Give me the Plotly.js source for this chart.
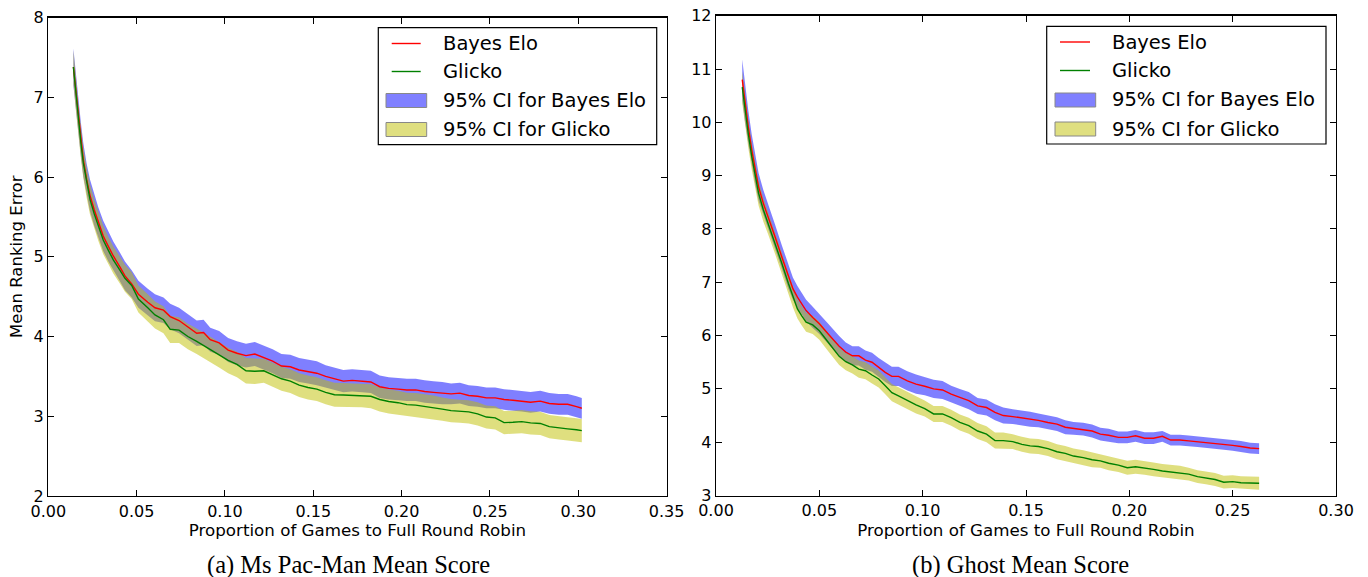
<!DOCTYPE html>
<html>
<head>
<meta charset="utf-8">
<script src="https://cdn.plot.ly/plotly-3.0.1.min.js"></script>
<style>
  html, body { margin: 0; padding: 0; background: #fff; }
  #chart { width: 1368px; height: 577px; }
</style>
</head>
<body>
<div id="chart"></div>
<script>
// ---------- (a) Ms Pac-Man Mean Score ----------
const pacX = [0.0142, 0.0155, 0.0170, 0.0185, 0.0198, 0.0217, 0.0236, 0.026, 0.0283, 0.0311,
  0.034, 0.0368, 0.0406, 0.0434, 0.0472, 0.051, 0.0563, 0.0604, 0.0652, 0.069,
  0.074, 0.079, 0.084, 0.0879, 0.0917, 0.0967, 0.1018, 0.1068, 0.1119, 0.1169,
  0.122, 0.127, 0.132, 0.137, 0.142, 0.147, 0.152, 0.157, 0.162, 0.167,
  0.172, 0.1775, 0.1826, 0.1876, 0.1927, 0.198, 0.203, 0.208, 0.213, 0.218,
  0.223, 0.228, 0.233, 0.238, 0.243, 0.248, 0.253, 0.258, 0.263, 0.268,
  0.273, 0.2785, 0.2836, 0.289, 0.294, 0.299, 0.302];
const pacBayes = [7.38, 7.09, 6.76, 6.46, 6.22, 5.97, 5.77, 5.59, 5.43, 5.26,
  5.13, 5.01, 4.87, 4.76, 4.66, 4.53, 4.43, 4.36, 4.33, 4.25,
  4.20, 4.12, 4.04, 4.05, 3.96, 3.92, 3.83, 3.79, 3.76, 3.78,
  3.73, 3.69, 3.63, 3.62, 3.58, 3.56, 3.54, 3.50, 3.47, 3.44,
  3.45, 3.44, 3.43, 3.37, 3.35, 3.34, 3.33, 3.33, 3.31, 3.30,
  3.29, 3.28, 3.29, 3.26, 3.25, 3.23, 3.23, 3.21, 3.20, 3.19,
  3.175, 3.19, 3.16, 3.15, 3.15, 3.12, 3.10];
const pacGlicko = [7.38, 7.06, 6.72, 6.42, 6.18, 5.93, 5.72, 5.54, 5.38, 5.21,
  5.08, 4.96, 4.83, 4.73, 4.64, 4.47, 4.36, 4.27, 4.21, 4.09,
  4.08, 4.00, 3.94, 3.89, 3.84, 3.77, 3.70, 3.65, 3.57, 3.565,
  3.57, 3.52, 3.47, 3.44, 3.39, 3.36, 3.34, 3.30, 3.27, 3.267,
  3.263, 3.263, 3.25, 3.21, 3.185, 3.17, 3.146, 3.14, 3.125, 3.11,
  3.09, 3.07, 3.063, 3.055, 3.03, 2.99, 2.98, 2.92, 2.925, 2.933,
  2.917, 2.91, 2.87, 2.852, 2.842, 2.83, 2.82];
const pacBayesCI = [0.23, 0.22, 0.22, 0.21, 0.21, 0.20, 0.20, 0.20, 0.19, 0.19,
  0.19, 0.18, 0.18, 0.18, 0.17, 0.17, 0.17, 0.17, 0.16, 0.16,
  0.16, 0.16, 0.16, 0.16, 0.15, 0.15, 0.15, 0.15, 0.15, 0.15,
  0.15, 0.15, 0.15, 0.15, 0.15, 0.15, 0.15, 0.14, 0.14, 0.14,
  0.14, 0.14, 0.14, 0.14, 0.14, 0.14, 0.14, 0.14, 0.14, 0.14,
  0.14, 0.13, 0.13, 0.13, 0.13, 0.13, 0.13, 0.13, 0.13, 0.13,
  0.13, 0.13, 0.13, 0.13, 0.13, 0.13, 0.13];
const pacGlickoCI = [0.21, 0.20, 0.20, 0.20, 0.19, 0.19, 0.19, 0.18, 0.18, 0.18,
  0.17, 0.17, 0.17, 0.17, 0.17, 0.17, 0.17, 0.17, 0.17, 0.17,
  0.16, 0.16, 0.16, 0.16, 0.16, 0.16, 0.16, 0.16, 0.16, 0.16,
  0.15, 0.15, 0.15, 0.15, 0.15, 0.15, 0.15, 0.15, 0.15, 0.15,
  0.15, 0.15, 0.15, 0.15, 0.15, 0.15, 0.15, 0.15, 0.15, 0.15,
  0.145, 0.145, 0.145, 0.145, 0.145, 0.145, 0.145, 0.145, 0.145, 0.145,
  0.145, 0.145, 0.145, 0.145, 0.145, 0.145, 0.145];

// ---------- (b) Ghost Mean Score ----------
const ghostX = [0.0127, 0.014, 0.0156, 0.0173, 0.019, 0.0206, 0.0229, 0.0253, 0.0286, 0.0318,
  0.035, 0.0372, 0.0394, 0.0415, 0.0436, 0.0468, 0.05, 0.0543, 0.0596, 0.0628,
  0.066, 0.0691, 0.0723, 0.0755, 0.0787, 0.0819, 0.0851, 0.0883, 0.0926, 0.0968,
  0.101, 0.1053, 0.1096, 0.1138, 0.118, 0.1223, 0.1266, 0.1309, 0.135, 0.139,
  0.1436, 0.148, 0.152, 0.156, 0.1606, 0.165, 0.169, 0.173, 0.1777, 0.182,
  0.186, 0.190, 0.1947, 0.199, 0.203, 0.2074, 0.2117, 0.216, 0.220, 0.2245,
  0.2287, 0.233, 0.237, 0.2415, 0.2457, 0.25, 0.254, 0.2585, 0.2628];
const ghostBayes = [10.80, 10.36, 9.92, 9.48, 9.10, 8.79, 8.48, 8.23, 7.85, 7.48,
  7.10, 6.88, 6.72, 6.60, 6.47, 6.34, 6.22, 6.03, 5.80, 5.69,
  5.62, 5.62, 5.54, 5.50, 5.40, 5.31, 5.235, 5.235, 5.15, 5.09,
  5.05, 5.00, 4.98, 4.90, 4.84, 4.78, 4.68, 4.65, 4.56, 4.50,
  4.48, 4.46, 4.43, 4.41, 4.37, 4.34, 4.28, 4.26, 4.245, 4.21,
  4.15, 4.13, 4.09, 4.09, 4.12, 4.075, 4.075, 4.11, 4.04, 4.04,
  4.025, 4.01, 3.99, 3.98, 3.96, 3.94, 3.92, 3.89, 3.88];
const ghostGlicko = [10.66, 10.23, 9.79, 9.36, 8.98, 8.67, 8.36, 8.10, 7.73, 7.36,
  6.98, 6.72, 6.50, 6.37, 6.25, 6.20, 6.09, 5.875, 5.61, 5.51,
  5.45, 5.37, 5.34, 5.26, 5.185, 5.06, 4.93, 4.87, 4.78, 4.70,
  4.63, 4.53, 4.53, 4.46, 4.37, 4.31, 4.21, 4.15, 4.03, 4.03,
  4.01, 3.96, 3.93, 3.92, 3.88, 3.82, 3.79, 3.74, 3.71, 3.67,
  3.65, 3.605, 3.57, 3.52, 3.54, 3.52, 3.49, 3.46, 3.44, 3.43,
  3.40, 3.355, 3.33, 3.30, 3.25, 3.26, 3.24, 3.24, 3.23];
const ghostBayesCI = [0.38, 0.34, 0.31, 0.29, 0.27, 0.26, 0.25, 0.24, 0.23, 0.22,
  0.22, 0.21, 0.21, 0.20, 0.20, 0.20, 0.19, 0.19, 0.19, 0.18,
  0.18, 0.18, 0.18, 0.18, 0.18, 0.18, 0.18, 0.18, 0.18, 0.18,
  0.17, 0.17, 0.17, 0.16, 0.16, 0.16, 0.15, 0.15, 0.15, 0.15,
  0.14, 0.14, 0.14, 0.13, 0.13, 0.13, 0.13, 0.12, 0.12, 0.12,
  0.12, 0.12, 0.11, 0.11, 0.11, 0.11, 0.11, 0.10, 0.10, 0.10,
  0.10, 0.10, 0.10, 0.10, 0.10, 0.10, 0.10, 0.10, 0.10];
const ghostGlickoCI = [0.30, 0.28, 0.26, 0.25, 0.24, 0.23, 0.22, 0.21, 0.20, 0.20,
  0.19, 0.19, 0.18, 0.18, 0.18, 0.17, 0.17, 0.17, 0.16, 0.16,
  0.16, 0.16, 0.16, 0.16, 0.16, 0.16, 0.16, 0.16, 0.16, 0.16,
  0.15, 0.15, 0.15, 0.15, 0.15, 0.15, 0.15, 0.15, 0.15, 0.15,
  0.14, 0.14, 0.14, 0.14, 0.14, 0.14, 0.14, 0.14, 0.14, 0.14,
  0.13, 0.13, 0.13, 0.13, 0.13, 0.13, 0.13, 0.13, 0.13, 0.13,
  0.12, 0.12, 0.12, 0.12, 0.12, 0.12, 0.12, 0.12, 0.12];

const xTicks = [0, 0.05, 0.10, 0.15, 0.20, 0.25, 0.30, 0.35];
const seriesNames = ['Bayes Elo', 'Glicko', '95% CI for Bayes Elo', '95% CI for Glicko'];
const xTitle = 'Proportion of Games to Full Round Robin';
const yTitle = 'Mean Ranking Error';
const captions = ['(a) Ms Pac-Man Mean Score', '(b) Ghost Mean Score'];

const W = 1368, H = 577;
const FONT = 'DejaVu Sans';
const RED = '#ff0000', GREEN = '#008000';
const BLUE = 'rgba(0,0,255,0.5)', YEL = 'rgba(191,191,0,0.5)';
const BLUE_PATCH = '#8080ff', YEL_PATCH = '#dfdf80';

function band(xs, ys, ci, name, color, xa, ya) {
  const up = ys.map((v, i) => v + ci[i]);
  const lo = ys.map((v, i) => v - ci[i]);
  return {
    x: xs.concat(xs.slice().reverse()),
    y: up.concat(lo.slice().reverse()),
    type: 'scatter', mode: 'lines', fill: 'toself',
    fillcolor: color, line: {width: 0}, name: name,
    xaxis: xa, yaxis: ya, showlegend: false, hoverinfo: 'skip'
  };
}
function line(xs, ys, name, color, xa, ya) {
  return {x: xs, y: ys, type: 'scatter', mode: 'lines', name: name,
    line: {color: color, width: 1.4}, xaxis: xa, yaxis: ya, showlegend: false};
}

const data = [
  band(pacX, pacBayes, pacBayesCI, seriesNames[2], BLUE, 'x', 'y'),
  band(pacX, pacGlicko, pacGlickoCI, seriesNames[3], YEL, 'x', 'y'),
  line(pacX, pacBayes, seriesNames[0], RED, 'x', 'y'),
  line(pacX, pacGlicko, seriesNames[1], GREEN, 'x', 'y'),
  band(ghostX, ghostBayes, ghostBayesCI, seriesNames[2], BLUE, 'x2', 'y2'),
  band(ghostX, ghostGlicko, ghostGlickoCI, seriesNames[3], YEL, 'x2', 'y2'),
  line(ghostX, ghostBayes, seriesNames[0], RED, 'x2', 'y2'),
  line(ghostX, ghostGlicko, seriesNames[1], GREEN, 'x2', 'y2')
];

function xax(domain, range, anchor) {
  return {
    domain: domain, range: range, anchor: anchor,
    tickvals: xTicks.filter(v => v <= range[1] + 1e-9), tickformat: '.2f',
    ticks: 'inside', ticklen: 6, tickwidth: 1, tickcolor: '#000',
    showline: true, linecolor: '#000', linewidth: 1.3, mirror: 'ticks',
    showgrid: false, zeroline: false, automargin: false,
    tickfont: {family: FONT, size: 16, color: '#000'},
    title: {text: xTitle, font: {family: FONT, size: 16.7, color: '#000'}, standoff: 4}
  };
}
function yax(domain, range, anchor, title) {
  return {
    domain: domain, range: range, anchor: anchor, dtick: 1,
    ticks: 'inside', ticklen: 6, tickwidth: 1, tickcolor: '#000',
    showline: true, linecolor: '#000', linewidth: 1.3, mirror: 'ticks',
    showgrid: false, zeroline: false, automargin: false,
    tickfont: {family: FONT, size: 16, color: '#000'},
    title: {text: title, font: {family: FONT, size: 16.5, color: '#000'}, standoff: 6}
  };
}

// Hand-drawn legend boxes (matplotlib style) in pixel geometry
const px = v => v / W, py = v => 1 - v / H;
const shapes = [], annotations = [];
function legendAt(box, lineX, patchX, textX, rows) {
  shapes.push({type: 'rect', xref: 'paper', yref: 'paper', layer: 'above',
    x0: px(box[0]), x1: px(box[1]), y0: py(box[2]), y1: py(box[3]),
    line: {color: '#000', width: 1.2}, fillcolor: '#fff'});
  const lineCols = [RED, GREEN], patchCols = [BLUE_PATCH, YEL_PATCH];
  rows.forEach((ry, i) => {
    if (i < 2) {
      shapes.push({type: 'line', xref: 'paper', yref: 'paper', layer: 'above',
        x0: px(lineX[0]), x1: px(lineX[1]), y0: py(ry), y1: py(ry),
        line: {color: lineCols[i], width: 1.4}});
    } else {
      shapes.push({type: 'rect', xref: 'paper', yref: 'paper', layer: 'above',
        x0: px(patchX[0]), x1: px(patchX[1]), y0: py(ry - 7), y1: py(ry + 7),
        line: {color: '#888888', width: 1}, fillcolor: patchCols[i - 2]});
    }
    annotations.push({text: seriesNames[i], xref: 'paper', yref: 'paper',
      x: px(textX), y: py(ry), xanchor: 'left', yanchor: 'middle', showarrow: false,
      font: {family: FONT, size: 19.5, color: '#000'}});
  });
}
legendAt([378.3, 656.7, 27.7, 144.7], [391.7, 420.7], [386, 426.7], 441, [43.5, 71.5, 100.5, 129.5]);
legendAt([1046.7, 1326, 26.3, 144], [1060, 1090], [1055, 1095.7], 1110, [42, 70.5, 100, 129]);

annotations.push(
  {text: captions[0], xref: 'paper', yref: 'paper', x: px(348), y: py(565),
   xanchor: 'center', yanchor: 'middle', showarrow: false,
   font: {family: 'Liberation Serif', size: 24.5, color: '#000'}},
  {text: captions[1], xref: 'paper', yref: 'paper', x: px(1020), y: py(565),
   xanchor: 'center', yanchor: 'middle', showarrow: false,
   font: {family: 'Liberation Serif', size: 24.5, color: '#000'}}
);

const layout = {
  width: W, height: H,
  margin: {l: 0, r: 0, t: 0, b: 0},
  paper_bgcolor: '#fff', plot_bgcolor: '#fff',
  showlegend: false,
  xaxis: xax([px(48.3), px(666.6)], [0, 0.35], 'y'),
  yaxis: yax([py(496), py(17.5)], [2, 8], 'x', yTitle),
  xaxis2: xax([px(716), px(1336)], [0, 0.30], 'y2'),
  yaxis2: yax([py(495.5), py(15.7)], [3, 12], 'x2', ''),
  shapes: shapes,
  annotations: annotations
};

Plotly.newPlot('chart', data, layout, {staticPlot: true, displayModeBar: false});
</script>
</body>
</html>
